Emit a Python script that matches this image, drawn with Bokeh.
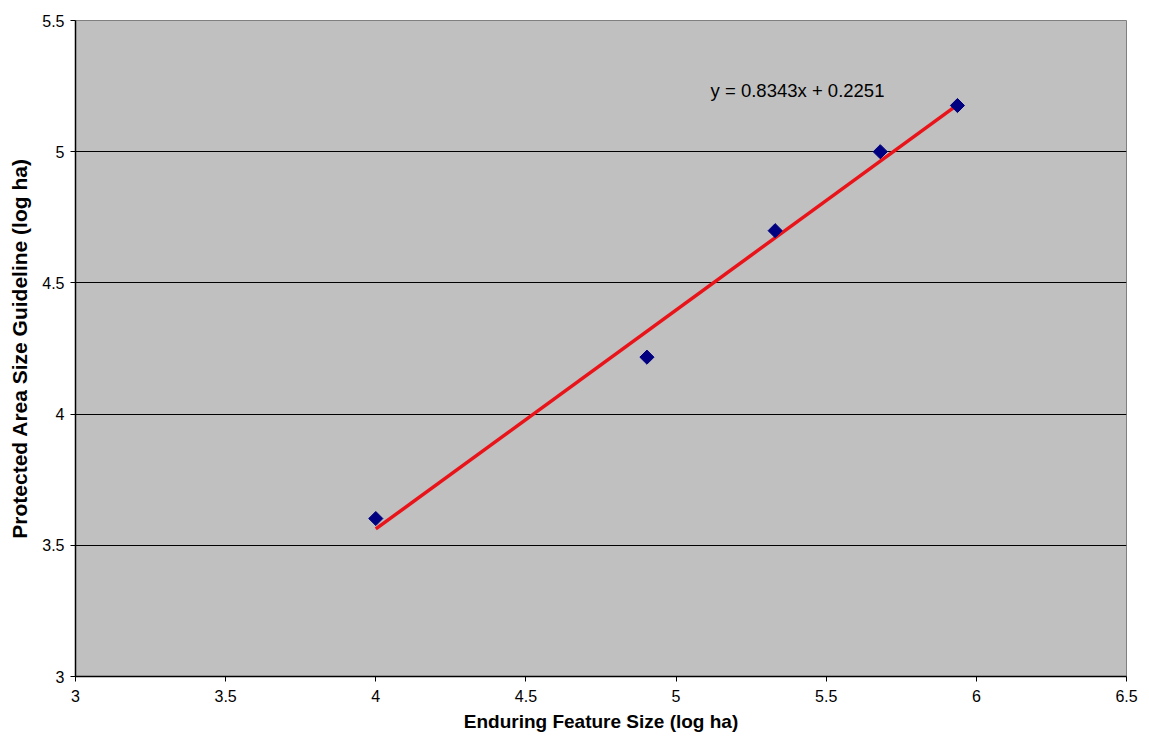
import math
from bokeh.plotting import figure
from bokeh.models import Range1d, FixedTicker, Label
from bokeh.embed import file_html
from bokeh.resources import INLINE

# Enduring feature size vs protected area size guideline (log10 hectares)
feature_size = [4.0, 4.903, 5.33, 5.68, 5.937]
guideline_size = [3.602, 4.217, 4.699, 5.0, 5.176]

# Linear trendline coefficients
slope = 0.8343
intercept = 0.2251
equation_label = "y = 0.8343x + 0.2251"

x_ticks = [3, 3.5, 4, 4.5, 5, 5.5, 6, 6.5]
y_ticks = [3, 3.5, 4, 4.5, 5, 5.5]
x_tick_labels = ["3", "3.5", "4", "4.5", "5", "5.5", "6", "6.5"]
y_tick_labels = ["3", "3.5", "4", "4.5", "5", "5.5"]

FONT = "Liberation Sans"

p = figure(width=1149, height=737, output_backend="svg", toolbar_location=None,
           x_range=Range1d(3, 6.5), y_range=Range1d(3, 5.5),
           min_border_left=75, min_border_right=23, min_border_top=20, min_border_bottom=61)

p.background_fill_color = "#C0C0C0"
p.border_fill_color = "white"
p.outline_line_color = "#808080"
p.outline_line_width = 1

p.xgrid.visible = False
p.ygrid.grid_line_color = "black"
p.ygrid.grid_line_width = 1
p.ygrid.ticker = FixedTicker(ticks=y_ticks)

for ax, ticks, labels in ((p.xaxis[0], x_ticks, x_tick_labels), (p.yaxis[0], y_ticks, y_tick_labels)):
    ax.ticker = FixedTicker(ticks=ticks)
    ax.major_label_overrides = {t: l for t, l in zip(ticks, labels)}
    ax.axis_line_color = "black"
    ax.axis_line_width = 1.5
    ax.major_tick_line_color = "black"
    ax.major_tick_in = 0
    ax.major_tick_out = 5
    ax.minor_tick_line_color = None
    ax.major_label_text_font = FONT
    ax.major_label_text_font_size = "16px"
    ax.major_label_text_color = "black"
    ax.axis_label_text_font = FONT
    ax.axis_label_text_font_style = "bold"
    ax.axis_label_text_color = "black"

p.xaxis.axis_label = "Enduring Feature Size (log ha)"
p.yaxis.axis_label = "Protected Area Size Guideline (log ha)"
p.xaxis.axis_label_text_font_size = "19px"
p.yaxis.axis_label_text_font_size = "21px"
p.xaxis.major_label_standoff = 8
p.xaxis.axis_label_standoff = 6
p.yaxis.major_label_standoff = 6
p.yaxis.axis_label_standoff = 8

# Trendline across the observed range
x0, x1 = min(feature_size), max(feature_size)
p.line([x0, x1], [slope * x0 + intercept, slope * x1 + intercept],
       line_color="#E8141A", line_width=3.5)

p.scatter(feature_size, guideline_size, marker="square", size=10, angle=math.pi / 4,
          fill_color="#000080", line_color="#000080")

p.add_layout(Label(x=5.115, y=5.235, text=equation_label, text_font=FONT,
                   text_font_size="18.5px", text_color="black", text_baseline="middle"))

open("out.html", "w").write(file_html(p, INLINE))
